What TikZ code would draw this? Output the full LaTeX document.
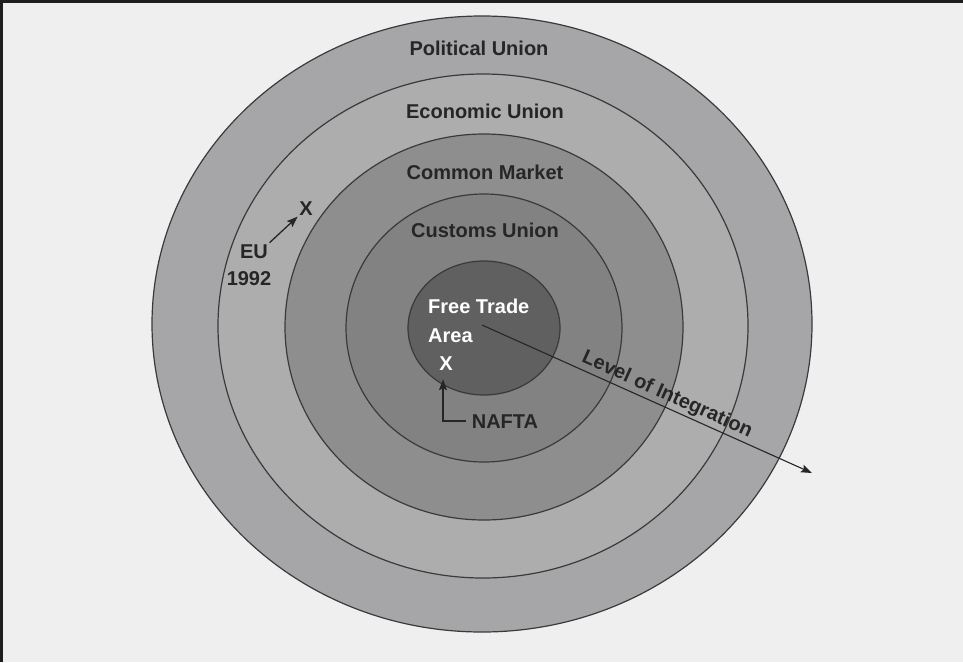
\documentclass[tikz,border=0pt]{standalone}
\usepackage{fontspec}
\setmainfont{Liberation Sans}
\usetikzlibrary{arrows.meta}
\definecolor{bgc}{HTML}{EFEFEF}
\definecolor{framec}{HTML}{1E1E1E}
\definecolor{linec}{HTML}{3A3A3A}
\definecolor{txtc}{HTML}{262626}
\definecolor{polc}{HTML}{A6A6A8}
\definecolor{ecoc}{HTML}{ADADAD}
\definecolor{comc}{HTML}{8E8E8E}
\definecolor{cusc}{HTML}{828282}
\definecolor{ftac}{HTML}{606060}
\begin{document}
\begin{tikzpicture}[x=1pt,y=-1pt,
  ring/.style={draw=linec, line width=1.2pt},
  lbl/.style={font=\bfseries\fontsize{20}{24}\selectfont, text=txtc, anchor=base, inner sep=0pt},
  wlbl/.style={lbl, text=white},
  ptr/.style={draw=txtc, line width=1.3pt, -{Stealth[length=11pt,width=8pt,inset=2pt]}},
  frame/.style={draw=framec, line width=3pt}]
\useasboundingbox (0,0) rectangle (963,662);
\fill[bgc] (0,0) rectangle (963,662);
\draw[frame] (0,1.5) -- (963,1.5);
\draw[frame] (1.5,0) -- (1.5,662);
% rings
\draw[ring, fill=polc] (482,324) ellipse [x radius=330pt, y radius=308pt];
\draw[ring, fill=ecoc] (483,326) ellipse [x radius=265pt, y radius=252pt];
\draw[ring, fill=comc] (484,327) ellipse [x radius=199pt, y radius=193pt];
\draw[ring, fill=cusc] (484,328) ellipse [x radius=138pt, y radius=134pt];
\draw[ring, fill=ftac] (484,328) ellipse [x radius=76pt, y radius=67pt];
% labels
\node[lbl] (pol) at (479,55) {Political Union};
\node[lbl] (eco) at (485,118) {Economic Union};
\node[lbl] (com) at (485,179) {Common Market};
\node[lbl] (cus) at (485,237) {Customs Union};
\node[wlbl, anchor=base west] (fta1) at (428,313) {Free Trade};
\node[wlbl, anchor=base west] (fta2) at (428,342) {Area};
\node[wlbl] (ftaX) at (446,370) {X};
\node[lbl] (nafta) at (505,428) {NAFTA};
\node[lbl] (eu) at (254,258) {EU};
\node[lbl] (eu2) at (249,285) {1992};
\node[lbl] (euX) at (306,215) {X};
% arrows
\draw[ptr, shorten <=6pt, shorten >=9pt] (nafta.west) -| ([xshift=-3pt]ftaX.south);
\draw[ptr, shorten <=2pt, shorten >=2pt] (eu.north east) -- (euX.south west);
\coordinate (loiS) at (482,325);
\coordinate (loiE) at (812,473);
\draw[ptr, line width=1.1pt] (loiS) -- node[lbl, pos=0.546, sloped, above, inner sep=2pt] (loi) {Level of Integration} (loiE);
\end{tikzpicture}
\end{document}
